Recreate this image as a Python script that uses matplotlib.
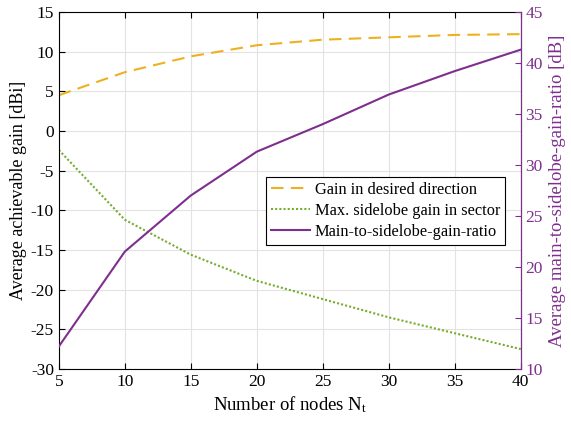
import matplotlib
matplotlib.use("Agg")
import matplotlib.pyplot as plt

plt.rcParams["font.family"] = ["Liberation Serif", "DejaVu Serif"]
plt.rcParams["mathtext.fontset"] = "custom"
plt.rcParams["mathtext.rm"] = "Liberation Serif"
plt.rcParams["mathtext.it"] = "Liberation Serif:italic"
plt.rcParams["axes.unicode_minus"] = False

# data
n_nodes = [5, 10, 15, 20, 25, 30, 35, 40]
gain_desired = [4.5, 7.4, 9.4, 10.8, 11.5, 11.8, 12.1, 12.2]
gain_sidelobe = [-2.4, -11.2, -15.6, -18.9, -21.2, -23.5, -25.5, -27.5]
main_to_side = [12.2, 21.5, 27.0, 31.3, 34.0, 36.9, 39.2, 41.3]

ORANGE = "#EDB120"
GREEN = "#77AC30"
PURPLE = "#7E2F8E"

fig = plt.figure(figsize=(5.71, 4.26), dpi=100)
ax = fig.add_axes([0.103, 0.134, 0.809, 0.838])
ax2 = ax.twinx()

l1, = ax.plot(n_nodes, gain_desired, color=ORANGE, lw=1.5, ls=(0, (6, 3.5)),
              label="Gain in desired direction")
l2, = ax.plot(n_nodes, gain_sidelobe, color=GREEN, lw=1.5, ls=(0, (1, 1)),
              label="Max. sidelobe gain in sector")
l3, = ax2.plot(n_nodes, main_to_side, color=PURPLE, lw=1.5,
               label="Main-to-sidelobe-gain-ratio")

ax.set_xlim(5, 40)
ax.set_ylim(-30, 15)
ax.set_xticks(range(5, 41, 5))
ax.set_yticks(range(-30, 16, 5))
ax2.set_ylim(10, 45)
ax2.set_yticks(range(10, 46, 5))

ax.grid(True, color="#e3e3e3", lw=0.8)
ax.set_axisbelow(True)

ax.tick_params(direction="in", labelsize=12.5, length=4, top=True, right=False)
ax2.tick_params(direction="in", labelsize=12.5, length=4, colors=PURPLE)
ax2.spines["right"].set_color(PURPLE)
for sp in ("left", "top", "bottom"):
    ax2.spines[sp].set_visible(False)

ax.set_xlabel(r"Number of nodes N$_{\mathrm{t}}$", fontsize=13.5, labelpad=3)
ax.set_ylabel("Average achievable gain [dBi]", fontsize=13, labelpad=3)
ax2.set_ylabel("Average main-to-sidelobe-gain-ratio [dB]", fontsize=13.5,
               color=PURPLE, labelpad=4)

leg = ax.legend(handles=[l1, l2, l3], loc="upper left",
                bbox_to_anchor=(0.448, 0.538), fontsize=11.8,
                fancybox=False, edgecolor="black", framealpha=1,
                handlelength=2.4, handletextpad=0.3, borderpad=0.3,
                labelspacing=0.3, borderaxespad=0)
leg.get_frame().set_linewidth(0.8)
leg.set_zorder(5)

fig.savefig("out.png", dpi=100)
